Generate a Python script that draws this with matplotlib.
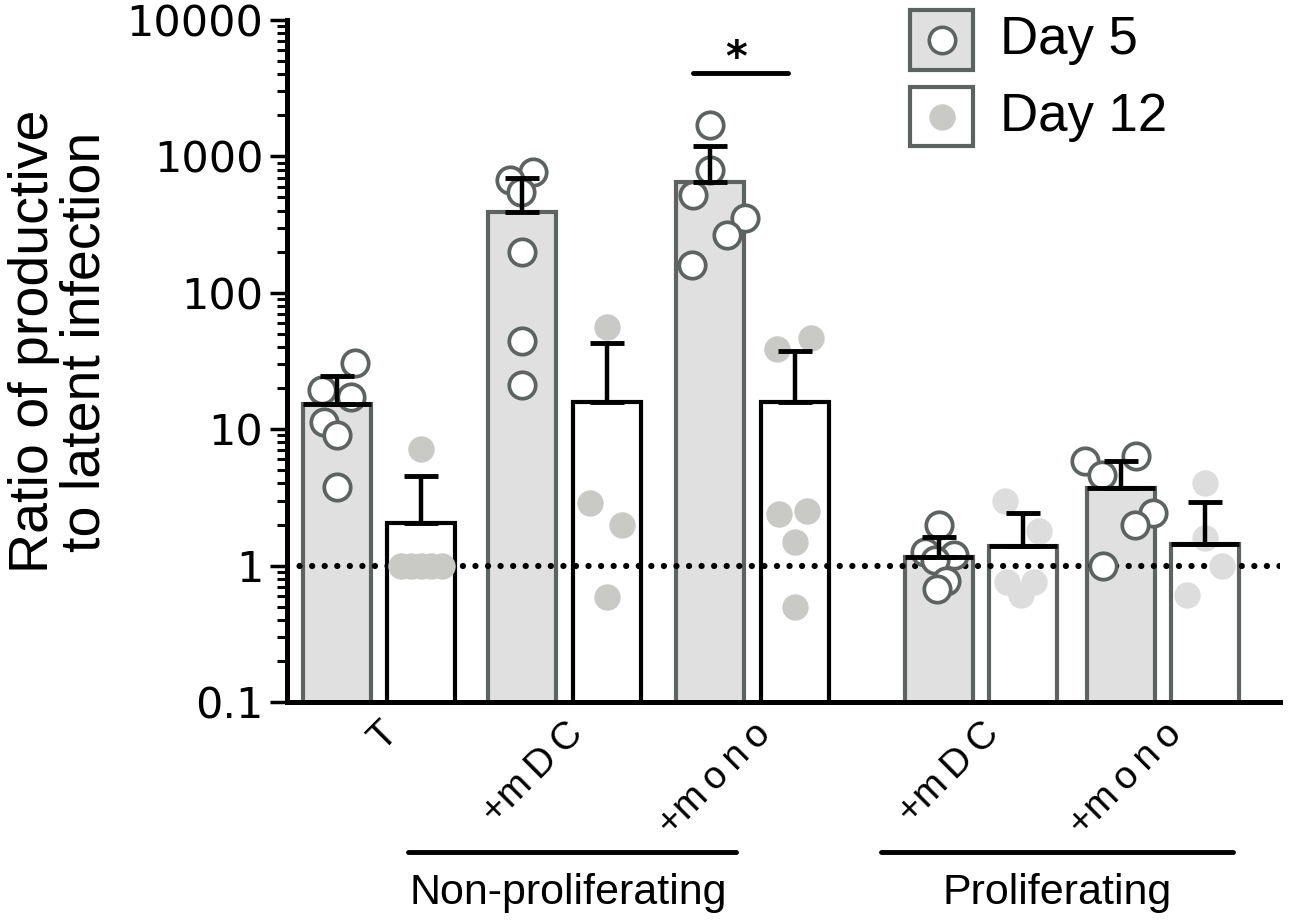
import numpy as np
import matplotlib
matplotlib.use('Agg')
import matplotlib.pyplot as plt
from matplotlib.patches import Rectangle
from matplotlib.lines import Line2D

# groups
groups = ['T', '+m\u2009D\u2009C', '+m\u2009o\u2009n\u2009o', '+m\u2009D\u2009C', '+m\u2009o\u2009n\u2009o']

# bar means and upper SEM
day5_mean = [15.4, 392, 650, 1.15, 3.73]
day5_err = [9.3, 303, 544, 0.48, 2.15]
day12_mean = [2.05, 15.9, 15.9, 1.40, 1.45]
day12_err = [2.45, 27, 21.7, 1.05, 1.49]

# individual donors
day5_pts = [[30.6, 19.5, 17.3, 11.2, 9.1, 3.8],
            [770, 670, 550, 200, 44, 21],
            [1700, 800, 520, 355, 266, 160],
            [2.0, 1.25, 1.2, 1.1, 0.77, 0.67],
            [5.8, 4.6, 6.4, 2.44, 2.0, 1.0]]
day12_pts = [[7.1, 1, 1, 1, 1, 1],
             [56, 2.9, 2.0, 0.59],
             [39, 47, 2.4, 2.5, 1.5, 0.5],
             [3.0, 1.78, 0.76, 0.76, 0.61],
             [4.0, 1.6, 1.0, 0.61]]

# horizontal scatter of the dots
day5_jit = [[0.21, -0.18, 0.17, -0.15, 0, 0],
            [0.13, -0.15, -0.02, 0, 0, 0],
            [0, 0, -0.2, 0.41, 0.19, -0.22],
            [0, -0.17, 0.17, -0.05, 0.08, -0.02],
            [-0.42, -0.22, 0.18, 0.38, 0.16, -0.21]]
day12_jit = [[0, -0.24, -0.12, 0, 0.12, 0.24],
             [0, -0.2, 0.18, 0],
             [-0.21, 0.19, -0.18, 0.15, 0, 0],
             [-0.22, 0.18, -0.19, 0.13, -0.03],
             [0, 0, 0.19, -0.22]]

pos = np.array([0, 2.18, 4.39, 7.08, 9.22])
off = 0.99
w = 0.8

gray = '#5d6361'
fill5 = '#e0e0e0'
dot_np = '#c9c9c5'
dot_p = '#dddddd'
prolif = [False, False, False, True, True]

fig = plt.figure(figsize=(13.01, 9.21), dpi=100)
ax = fig.add_axes([0.2206, 0.2378, 0.7634, 0.7405])
ax.set_yscale('log')
ax.set_ylim(0.1, 10000)
ax.set_xlim(-0.588, 11.09)

ax.bar(pos, day5_mean, width=w, color=fill5, edgecolor=gray, linewidth=3, zorder=1)
e12 = [gray if p else 'black' for p in prolif]
ax.bar(pos + off, day12_mean, width=w, color='white', edgecolor=e12, linewidth=3, zorder=1)

# black mean lines on some bars
for i in range(5):
    if i == 0 or prolif[i]:
        ax.hlines(day5_mean[i], pos[i] - w/2, pos[i] + w/2, color='black', lw=3.5, zorder=4)
    if prolif[i]:
        ax.hlines(day12_mean[i], pos[i] + off - w/2, pos[i] + off + w/2, color='black', lw=3.5, zorder=4)

ax.axhline(1, color='black', lw=4.5, linestyle=(0, (0.01, 2.0)), dash_capstyle='round', zorder=2)

for i in range(5):
    ax.plot(pos[i] + np.array(day5_jit[i]), day5_pts[i], 'o', ms=19, mfc='white', mec=gray, mew=2.7, zorder=3)
    c = dot_p if prolif[i] else dot_np
    ax.plot(pos[i] + off + np.array(day12_jit[i]), day12_pts[i], 'o', ms=19, mfc=c, mec=c, mew=0, zorder=3)

ax.errorbar(pos, day5_mean, yerr=[np.zeros(5), day5_err], fmt='none', ecolor='black', elinewidth=3.2,
            capsize=12, capthick=3.5, zorder=5)
ax.errorbar(pos + off, day12_mean, yerr=[np.zeros(5), day12_err], fmt='none', ecolor='black', elinewidth=3.2,
            capsize=12, capthick=3.5, zorder=5)

# significance
mid = pos[2] + off / 2 - 0.14
ax.plot([mid - 0.56, mid + 0.56], [4080, 4080], color='black', lw=3.5, solid_capstyle='round', clip_on=False)
ax.text(mid - 0.05, 5200, '*', fontsize=30, ha='center', va='center', fontweight='bold')

for s in ['top', 'right']:
    ax.spines[s].set_visible(False)
ax.spines['left'].set_linewidth(3.6)
ax.spines['bottom'].set_linewidth(3.6)

ax.set_yticks([0.1, 1, 10, 100, 1000, 10000])
ax.set_yticklabels(['0.1', '1', '10', '100', '1000', '10000'], fontsize=31, family='DejaVu Sans')
ax.tick_params(axis='y', which='major', length=12, width=2.5, pad=5)
ax.tick_params(axis='y', which='minor', length=7, width=2.2)

ax.set_xticks(pos + off / 2)
ax.set_xticklabels(groups, rotation=45, ha='right', va='top', rotation_mode='anchor',
                   fontsize=28, family=['Liberation Sans', 'DejaVu Sans'])
ax.tick_params(axis='x', length=0, pad=10)

# group brackets
tr = ax.get_xaxis_transform()
ax.plot([pos[0] + 0.84, pos[2] + 0.3], [-0.22, -0.22], color='black', lw=3.5, transform=tr,
        clip_on=False, solid_capstyle='round')
ax.plot([pos[3] - 0.68, pos[4] + 1.32], [-0.22, -0.22], color='black', lw=3.5, transform=tr,
        clip_on=False, solid_capstyle='round')
ax.text(2.72, -0.28, 'Non-proliferating', transform=tr, ha='center', va='center', fontsize=31,
        family='Liberation Sans')
ax.text(8.47, -0.28, 'Proliferating', transform=tr, ha='center', va='center', fontsize=31,
        family='Liberation Sans')

fig.text(0.046, 0.629, 'Ratio of productive\nto latent infection', rotation=90, ha='center', va='center',
         fontsize=40, linespacing=1.0, family='Liberation Sans')

# legend
fig.add_artist(Rectangle((0.6995, 0.924), 0.0484, 0.0651, transform=fig.transFigure,
                         facecolor=fill5, edgecolor=gray, lw=3))
fig.add_artist(Rectangle((0.6995, 0.8415), 0.0484, 0.064, transform=fig.transFigure,
                         facecolor='white', edgecolor=gray, lw=3))
fig.add_artist(Line2D([0.7237], [0.9566], marker='o', ms=19, mfc='white', mec=gray, mew=2.6,
                      transform=fig.transFigure))
fig.add_artist(Line2D([0.7237], [0.8735], marker='o', ms=19, mfc=dot_np, mec=dot_np, mew=0,
                      transform=fig.transFigure))
fig.text(0.7686, 0.9566, 'Day 5', fontsize=38, va='center', ha='left', family='Liberation Sans')
fig.text(0.7686, 0.8735, 'Day 12', fontsize=38, va='center', ha='left', family='Liberation Sans')

fig.savefig('out.png', dpi=100)
